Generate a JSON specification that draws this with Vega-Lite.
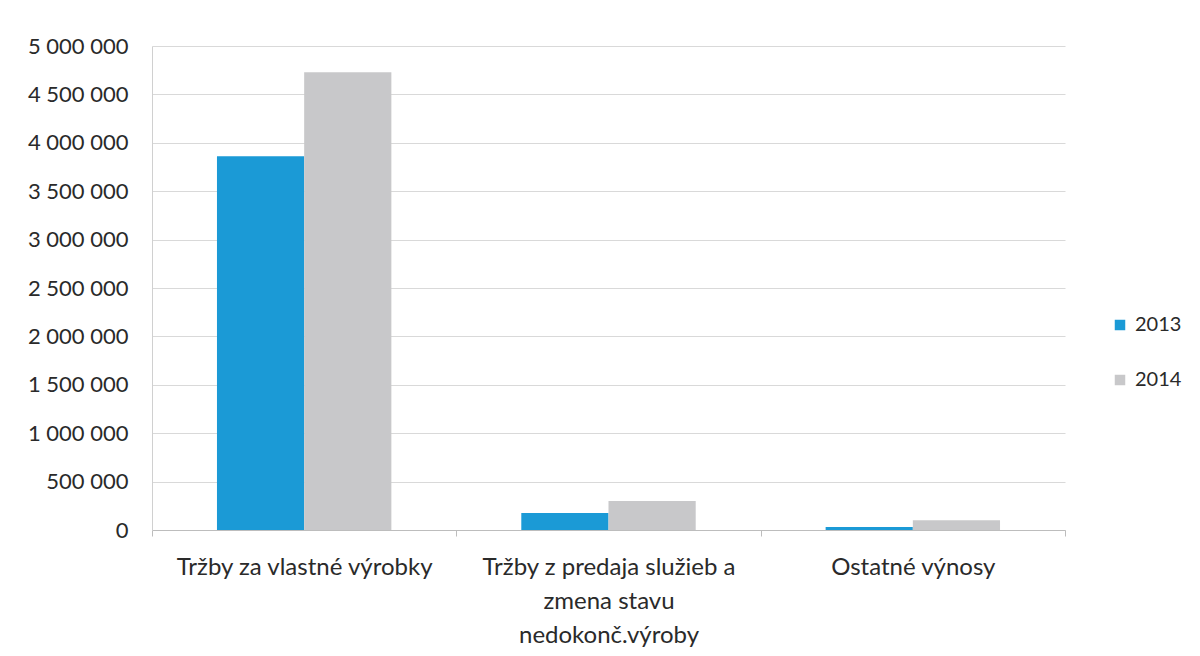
{
  "$schema": "https://vega.github.io/schema/vega-lite/v6.json",
  "autosize": {"type": "none"},
  "width": 913,
  "height": 484,
  "padding": {"left": 152, "top": 46, "right": 135, "bottom": 126},
  "background": "white",
  "config": {
    "locale": {"number": {"decimal": ",", "thousands": " ", "grouping": [3], "currency": ["", " €"]}},
    "font": "Lato",
    "view": {"stroke": null}
  },
  "data": {
    "values": [
      {"kategoria": "Tržby za vlastné výrobky", "rok": "2013", "hodnota": 3860000},
      {"kategoria": "Tržby za vlastné výrobky", "rok": "2014", "hodnota": 4730000},
      {"kategoria": "Tržby z predaja služieb a zmena stavu nedokonč.výroby", "rok": "2013", "hodnota": 175000},
      {"kategoria": "Tržby z predaja služieb a zmena stavu nedokonč.výroby", "rok": "2014", "hodnota": 300000},
      {"kategoria": "Ostatné výnosy", "rok": "2013", "hodnota": 30000},
      {"kategoria": "Ostatné výnosy", "rok": "2014", "hodnota": 100000}
    ]
  },
  "mark": {"type": "bar"},
  "encoding": {
    "x": {
      "field": "kategoria",
      "type": "nominal",
      "sort": null,
      "scale": {"paddingInner": 0, "paddingOuter": 0},
      "axis": {
        "title": null,
        "labelAngle": 0,
        "labelFontSize": 24,
        "labelColor": "#2a2a2a",
        "labelPadding": 19,
        "labelLineHeight": 34,
        "labelExpr": "datum.value == 'Tržby z predaja služieb a zmena stavu nedokonč.výroby' ? ['Tržby z predaja služieb a', 'zmena stavu', 'nedokonč.výroby'] : datum.value",
        "tickBand": "extent",
        "tickSize": 6,
        "tickColor": "#bdbdbd",
        "domainColor": "#bdbdbd",
        "labelLimit": 400
      }
    },
    "xOffset": {"field": "rok", "type": "nominal", "scale": {"paddingInner": 0, "paddingOuter": 0.745}},
    "y": {
      "field": "hodnota",
      "type": "quantitative",
      "scale": {"domain": [0, 5000000]},
      "axis": {
        "title": null,
        "values": [0, 500000, 1000000, 1500000, 2000000, 2500000, 3000000, 3500000, 4000000, 4500000, 5000000],
        "format": ",d",
        "labelFontSize": 22,
        "labelColor": "#2a2a2a",
        "labelPadding": 24,
        "tickSize": 0,
        "domain": true,
        "domainColor": "#d0d0d0",
        "gridColor": "#d9d9d9"
      }
    },
    "color": {
      "field": "rok",
      "type": "nominal",
      "scale": {"domain": ["2013", "2014"], "range": ["#1b9ad6", "#c8c8ca"]},
      "legend": {
        "title": null,
        "orient": "none",
        "legendX": 958,
        "legendY": 269,
        "symbolType": "square",
        "symbolSize": 110,
        "symbolStrokeWidth": 0,
        "labelFontSize": 20,
        "labelColor": "#2a2a2a",
        "rowPadding": 35,
        "labelOffset": 5
      }
    }
  }
}
